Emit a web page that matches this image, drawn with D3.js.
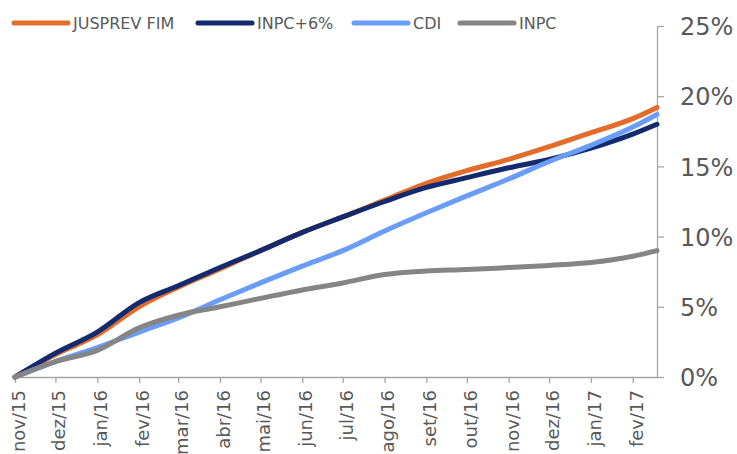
<!DOCTYPE html>
<html>
<head>
<meta charset="utf-8">
<script src="https://cdn.jsdelivr.net/npm/d3@7"></script>
<style>
  html, body { margin: 0; padding: 0; background: #fff; }
  svg { display: block; font-family: "DejaVu Sans", Verdana, sans-serif; }
</style>
</head>
<body>
<svg id="chart" width="737" height="454"></svg>
<script>
// ---- data ----
const dates = ["2015-11-01","2015-12-01","2016-01-01","2016-02-01","2016-03-01","2016-04-01",
  "2016-05-01","2016-06-01","2016-07-01","2016-08-01","2016-09-01","2016-10-01",
  "2016-11-01","2016-12-01","2017-01-01","2017-02-01","2017-02-19"];
const jusprev = [0, 1.6, 3.0, 5.0, 6.4, 7.7, 9.0, 10.3, 11.4, 12.6, 13.8, 14.7, 15.5, 16.4, 17.4, 18.4, 19.2];
const inpc6   = [0, 1.7, 3.2, 5.3, 6.5, 7.8, 9.0, 10.3, 11.4, 12.5, 13.5, 14.2, 14.9, 15.5, 16.3, 17.3, 18.0];
const cdi     = [0, 1.1, 2.1, 3.2, 4.2, 5.5, 6.7, 7.9, 9.0, 10.4, 11.7, 12.9, 14.1, 15.35, 16.5, 17.8, 18.7];
const inpc    = [0, 1.1, 1.9, 3.5, 4.4, 5.0, 5.6, 6.2, 6.7, 7.3, 7.55, 7.65, 7.8, 7.95, 8.15, 8.6, 9.0];
const seriesNames = ["JUSPREV FIM", "INPC+6%", "CDI", "INPC"];
const seriesColors = ["#E46C2A", "#132A6E", "#6A9DF7", "#858585"];
const yTicks = [0, 5, 10, 15, 20, 25];
const monthLabels = ["jan","fev","mar","abr","mai","jun","jul","ago","set","out","nov","dez"];
const xTickDates = ["2015-11-01","2015-12-01","2016-01-01","2016-02-01","2016-03-01","2016-04-01",
  "2016-05-01","2016-06-01","2016-07-01","2016-08-01","2016-09-01","2016-10-01",
  "2016-11-01","2016-12-01","2017-01-01","2017-02-01"];

const parse = d3.timeParse("%Y-%m-%d");
const X = dates.map(parse);
const seriesValues = [jusprev, inpc6, cdi, inpc];

const svg = d3.select("#chart");
const x = d3.scaleTime().domain([parse("2015-11-01"), parse("2017-02-19")]).range([15, 657]);
const y = d3.scaleLinear().domain([0, 25]).range([377, 26]);

const axisColor = "#A6A6A6";
const textColor = "#595959";

// x axis
const xAxis = d3.axisBottom(x)
  .tickValues(xTickDates.map(parse))
  .tickSize(6)
  .tickSizeOuter(0)
  .tickFormat(d => monthLabels[d.getMonth()] + "/" + String(d.getFullYear()).slice(2));
const gx = svg.append("g").attr("transform", "translate(0,377)").call(xAxis);
gx.select(".domain").attr("stroke", axisColor).attr("stroke-width", 1.3);
gx.selectAll(".tick line").attr("stroke", axisColor).attr("stroke-width", 1.3);
gx.selectAll(".tick text")
  .attr("fill", textColor)
  .style("font-size", "18px")
  .style("font-family", "'DejaVu Sans', Verdana, sans-serif")
  .attr("text-anchor", "end")
  .attr("transform", "translate(0,13) rotate(-90)")
  .attr("x", 0).attr("y", 0)
  .attr("dy", "0.52em");

// y axis (right)
const yAxis = d3.axisRight(y)
  .tickValues(yTicks)
  .tickSize(7)
  .tickSizeOuter(0)
  .tickFormat(d => d + "%");
const gy = svg.append("g").attr("transform", "translate(657,0)").call(yAxis);
gy.select(".domain").attr("stroke", axisColor).attr("stroke-width", 1.3);
gy.selectAll(".tick line").attr("stroke", axisColor).attr("stroke-width", 1.3);
gy.selectAll(".tick text")
  .attr("fill", textColor)
  .style("font-size", "24px")
  .style("font-family", "'DejaVu Sans', Verdana, sans-serif")
  .attr("x", 23)
  .attr("dy", "0.36em");

// lines
const line = d3.line()
  .x((d, i) => x(X[i]))
  .y(d => y(d))
  .curve(d3.curveMonotoneX);
seriesValues.forEach((vals, k) => {
  svg.append("path")
    .datum(vals)
    .attr("d", line)
    .attr("fill", "none")
    .attr("stroke", seriesColors[k])
    .attr("stroke-width", 5)
    .attr("stroke-linejoin", "round")
    .attr("stroke-linecap", "round");
});

// legend
const legendX = [14, 198, 354, 460];
const lg = svg.append("g");
seriesNames.forEach((name, k) => {
  lg.append("line")
    .attr("x1", legendX[k]).attr("x2", legendX[k] + 54)
    .attr("y1", 23).attr("y2", 23)
    .attr("stroke", seriesColors[k])
    .attr("stroke-width", 5)
    .attr("stroke-linecap", "round");
  lg.append("text")
    .attr("x", legendX[k] + 59)
    .attr("y", 29)
    .attr("fill", textColor)
    .style("font-size", "16px")
    .text(name);
});
</script>
</body>
</html>
